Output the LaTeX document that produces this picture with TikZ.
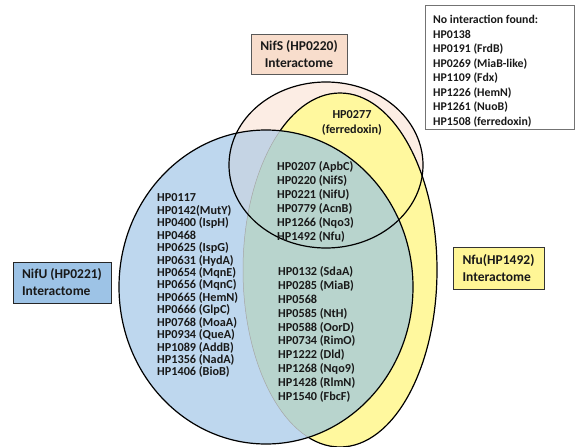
\documentclass[tikz,border=0pt]{standalone}
\usepackage{fontspec}
\setmainfont{Carlito}
\definecolor{peachfill}{RGB}{252,237,228}
\definecolor{peachbox}{RGB}{248,221,204}
\definecolor{yelfill}{RGB}{255,248,158}
\definecolor{yelbox}{RGB}{255,246,150}
\definecolor{bluefill}{RGB}{190,215,238}
\definecolor{bluebox}{RGB}{157,195,230}
\definecolor{bluegray}{RGB}{197,212,228}
\definecolor{greenfill}{RGB}{184,212,205}
\definecolor{txtcol}{RGB}{25,25,25}
\newcommand\pathS{(326,165) ellipse [x radius=97pt, y radius=83pt]}
\newcommand\pathY{(340,270) ellipse [x radius=97pt, y radius=177pt]}
\newcommand\pathB{(266,287) ellipse [x radius=147pt, y radius=157pt]}
\tikzset{
  lst/.style={anchor=west, inner sep=0pt, text height=7.7pt, text depth=0pt,
    font=\fontsize{12.2}{13}\selectfont\bfseries, text=txtcol},
  lblbox/.style={draw, line width=0.9pt, inner sep=0pt,
    font=\fontsize{13.5}{17}\selectfont\bfseries, text=txtcol},
  outl/.style={draw=black, line width=1.2pt}
}
\begin{document}
\begin{tikzpicture}[x=1pt,y=-1pt]
\useasboundingbox (0,0) rectangle (576,447);
\fill[white] (0,0) rectangle (576,447);
% fills
\fill[peachfill] \pathS;
\fill[yelfill] \pathY;
\draw[outl] \pathY;
\fill[bluefill] \pathB;
\begin{scope}
  \clip \pathB;
  \fill[bluegray] \pathS;
  \fill[greenfill] \pathY;
  \draw[draw=black!35, line width=0.5pt] \pathY;
\end{scope}
\draw[outl] \pathB;
\draw[outl] \pathS;
% label boxes
\node[lblbox, fill=peachbox, draw=black!65, minimum width=96pt, minimum height=40pt, align=center] (nifs) at (299,54) {NifS (HP0220)\\Interactome};
\node[lblbox, fill=bluebox, draw=black!85, minimum width=98pt, minimum height=41pt, align=left] (nifu) at (62,282.5) {NifU (HP0221)\\Interactome};
\node[lblbox, fill=yelbox, draw=black!80, minimum width=91pt, minimum height=42pt, align=left] (nfu) at (498.5,268) {Nfu(HP1492)\\Interactome};
% no interaction box
\node[draw=black!55, line width=0.8pt, minimum width=149pt, minimum height=124pt, inner sep=0pt] (noint) at (499.5,67.5) {};
\foreach \t [count=\i] in {No interaction found:, HP0138, HP0191 (FrdB), HP0269 (MiaB-like), HP1109 (Fdx), HP1226 (HemN), HP1261 (NuoB), HP1508 (ferredoxin)}
  \node[lst, font=\fontsize{11.8}{13}\selectfont\bfseries] (n\i) at (433,{20+(\i-1)*14.5}) {\t};
% HP0277
\node[lst, anchor=center] (f1) at (352,115) {HP0277};
\node[lst, anchor=center] (f2) at (352,130) {(ferredoxin)};
% blue only
\foreach \t [count=\i] in {HP0117, HP0142(MutY), HP0400 (IspH), HP0468, HP0625 (IspG), HP0631 (HydA), HP0654 (MqnE), HP0656 (MqnC), HP0665 (HemN), HP0666 (GlpC), HP0768 (MoaA), HP0934 (QueA), HP1089 (AddB), HP1356 (NadA), HP1406 (BioB)}
  \node[lst] (b\i) at (157,{198+(\i-1)*12.43}) {\t};
% triple
\foreach \t [count=\i] in {HP0207 (ApbC), HP0220 (NifS), HP0221 (NifU), HP0779 (AcnB), HP1266 (Nqo3), HP1492 (Nfu)}
  \node[lst] (c\i) at (277,{167+(\i-1)*14}) {\t};
% blue and yellow
\foreach \t [count=\i] in {HP0132 (SdaA), HP0285 (MiaB), HP0568, HP0585 (NtH), HP0588 (OorD), HP0734 (RimO), HP1222 (Dld), HP1268 (Nqo9), HP1428 (RlmN), HP1540 (FbcF)}
  \node[lst] (g\i) at (278,{272+(\i-1)*13.8}) {\t};
\end{tikzpicture}
\end{document}
